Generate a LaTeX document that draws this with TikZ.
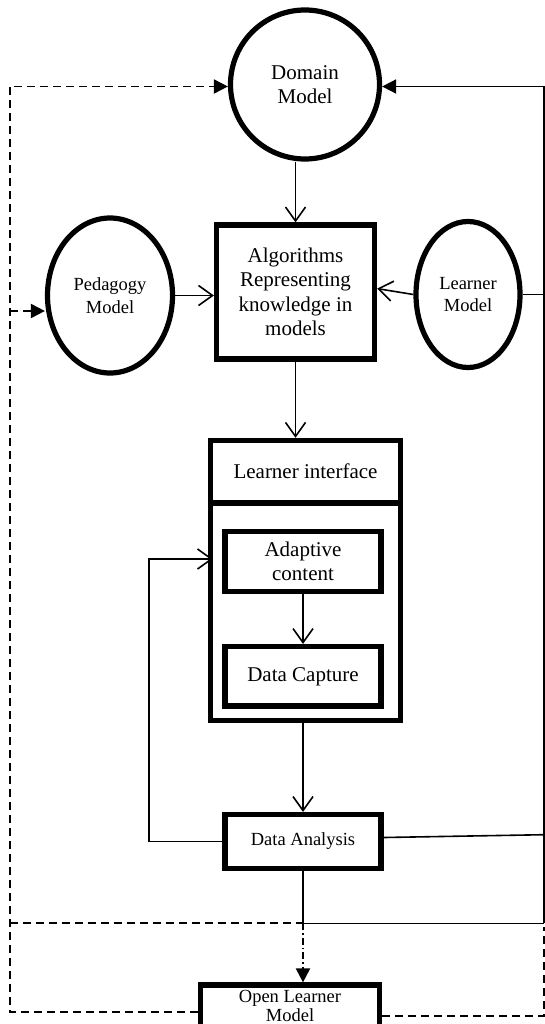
\documentclass[tikz,border=0pt]{standalone}
\usepackage{fontspec}
\setmainfont{Liberation Serif}
\usetikzlibrary{arrows.meta,shapes.geometric,calc}
\begin{document}
\begin{tikzpicture}[x=1pt,y=-1pt,
  bigtxt/.style={font=\fontsize{21}{24.5}\selectfont, align=center},
  smalltxt/.style={font=\fontsize{18.5}{22.5}\selectfont, align=center},
  heavy/.style={draw, line width=5.2pt, inner sep=0pt},
  roundnode/.style={heavy, circle},
  ovalnode/.style={heavy, ellipse},
  boxnode/.style={heavy, rectangle},
  conn/.style={line width=1.6pt},
  openarr/.style={conn, -{Straight Barb[length=14pt,width=20pt,line width=1.6pt]}},
  fillarr/.style={-{Triangle[length=14pt,width=14pt]}},
  dashline/.style={line width=1.9pt, dash pattern=on 8pt off 5pt},
  dotdashline/.style={line width=1.9pt, dash pattern=on 7pt off 3pt on 1.5pt off 3pt},
]
\useasboundingbox (0,0) rectangle (545,1024);
\clip (0,0) rectangle (545,1024);

% models and processing blocks
\node[roundnode, minimum size=149pt, bigtxt] (dom) at (305,84.5) {Domain\\Model};
\node[ovalnode, minimum width=125pt, minimum height=155pt, smalltxt] (ped) at (110,295.5) {Pedagogy\\Model};
\node[ovalnode, minimum width=104pt, minimum height=146pt, smalltxt] (lrn) at (468,294.5) {Learner\\Model};
\node[boxnode, minimum width=158pt, minimum height=134pt, bigtxt] (alg) at (295.5,292) {Algorithms\\Representing\\knowledge in\\models};

% learner interface with its inner blocks
\node[boxnode, minimum width=190pt, minimum height=62pt, bigtxt] (lif) at (305.5,471.4) {Learner interface};
\node[boxnode, minimum width=190pt, minimum height=217.6pt] (body) at (305.5,611.9) {};
\node[boxnode, minimum width=156pt, minimum height=60pt, bigtxt] (ada) at (303,561.3) {Adaptive\\content};
\node[boxnode, minimum width=156pt, minimum height=59.5pt, bigtxt] (cap) at (303,676.3) {Data Capture};

\node[boxnode, minimum width=156pt, minimum height=54pt, smalltxt] (dan) at (303,841.5) {Data Analysis};
\node[boxnode, minimum width=179pt, minimum height=42pt, smalltxt, font=\fontsize{18.5}{19}\selectfont] (olm) at (290,1006) {Open Learner\\Model};

% corner points of the outer loops
\coordinate (rtop) at (544,86.5);
\coordinate (rdan) at (544,834.7);
\coordinate (rbot) at (544,923.4);
\coordinate (rdash) at (544,927);
\coordinate (rolm) at (544,1016);
\coordinate (ltop) at (9.7,86.5);
\coordinate (lped) at (9.7,311);
\coordinate (lmid) at (9.7,923.4);
\coordinate (lbot) at (9.7,1012);
\coordinate (fbk) at (148.8,559);

% main flow
\draw[openarr] (alg.north |- dom.south) -- (alg.north);
\draw[openarr] (ped.east) -- (alg.west |- ped.east);
\draw[openarr] (lrn.west) -- ([yshift=3.4pt]alg.east);
\draw[openarr] (alg.south) -- (alg.south |- lif.north);
\draw[openarr] (ada.south) -- (cap.north);
\draw[openarr] (dan.north |- body.south) -- (dan.north);
\draw[openarr] (dan.west) -| (fbk) -- ([xshift=5pt]body.west |- fbk);

% solid loop on the right
\draw[conn, fillarr] (rtop) -- (dom.east |- rtop);
\draw[conn] (rtop) -- (rbot);
\draw[conn] (lrn.east) -- (lrn.east -| rtop);
\draw[conn] ([yshift=4pt]dan.east) -- (rdan);
\draw[conn] (dan.south) |- (rbot);
\draw[dotdashline, fillarr] (dan.south |- rbot) -- (dan.south |- olm.north);

% dashed loop from the open learner model
\draw[dashline, fillarr] (olm.west |- lbot) -- (lbot) -- (ltop) -- (dom.west |- ltop);
\draw[dashline, fillarr] (lped) -- (ped.west |- lped);
\draw[dashline] (lmid) -- (dan.south |- lmid);
\draw[dashline] (olm.east |- rolm) -- (rolm) -- (rdash);
\end{tikzpicture}
\end{document}
